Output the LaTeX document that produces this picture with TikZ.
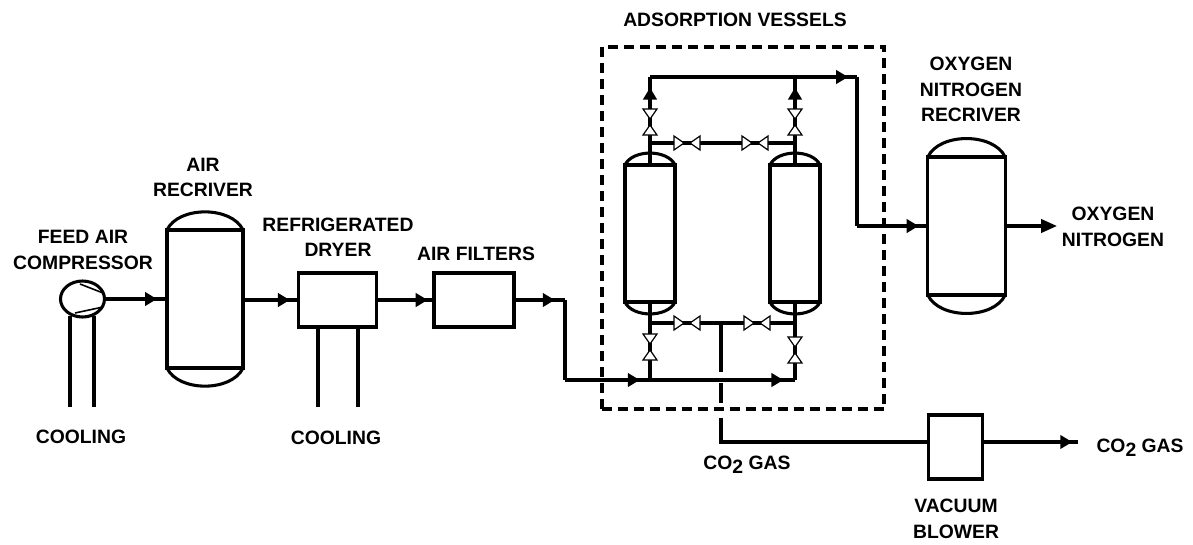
\documentclass[tikz,border=0pt]{standalone}
\usepackage{fontspec}
\setmainfont{Liberation Sans}
\usepackage{tikz}
\usetikzlibrary{arrows.meta,decorations.markings,shapes.geometric}

\tikzset{
    pipe/.style={line width=2.3pt},
    flow/.style={postaction={decorate},decoration={markings,
        mark=at position #1 with {\arrow{Triangle[length=9pt,width=10pt]}}}},
    unit/.style={draw,line width=2.3pt,rectangle,inner sep=0pt,outer sep=0pt},
    label/.style={font=\bfseries\fontsize{14.5}{19}\selectfont,align=center,inner sep=0pt},
    valve/.pic={
        \draw[line width=0.9pt,fill=white] (-13,-7) -- (-3,0) -- (-13,7) -- cycle;
        \draw[line width=0.9pt,fill=white] (13,-7) -- (3,0) -- (13,7) -- cycle;
    }
}

\begin{document}
\begin{tikzpicture}[x=0.75pt,y=-0.75pt]
\useasboundingbox (0,0) rectangle (1193,544);

% Adsorption boundary
\node[draw,line width=3pt,dash pattern=on 7.5pt off 4.5pt,rectangle,inner sep=0pt,
    minimum width=212pt,minimum height=272pt] (adsbox) at (743,228) {};

% Equipment
\node[draw,line width=2.3pt,ellipse,inner sep=0pt,outer sep=0pt,
    minimum width=33pt,minimum height=27pt] (compressor) at (82.5,299) {};
\node[unit,minimum width=57pt,minimum height=103.5pt] (airrec) at (205,299) {};
\node[unit,minimum width=59pt,minimum height=40.5pt] (dryer) at (337.5,300) {};
\node[unit,minimum width=60pt,minimum height=40.5pt] (filters) at (474,300) {};
\node[unit,minimum width=37.5pt,minimum height=102.75pt] (vesselA) at (650,233.5) {};
\node[unit,minimum width=37.5pt,minimum height=102.75pt] (vesselB) at (795,233.5) {};
\node[unit,minimum width=58pt,minimum height=103.5pt] (oxyrec) at (966.5,226) {};
\node[unit,minimum width=40pt,minimum height=48pt] (blower) at (955.5,447) {};

% Vessel heads
\foreach \v in {airrec,vesselA,vesselB,oxyrec} {
    \draw[pipe] (\v.north west) to[bend left=65,looseness=0.9] (\v.north east);
    \draw[pipe] (\v.south west) to[bend right=65,looseness=0.9] (\v.south east);
}
\draw[line width=1.2pt] (80,284) -- (103,293);
\draw[line width=1.2pt] (75,313) -- (103,307);

% Pipe junctions
\coordinate (topA) at (650,77);
\coordinate (topB) at (795,77);
\coordinate (topC) at (857,77);
\coordinate (dropC) at (857,226);
\coordinate (headA) at (650,143);
\coordinate (headB) at (795,143);
\coordinate (footA) at (650,323);
\coordinate (footB) at (795,323);
\coordinate (footM) at (721,323);
\coordinate (feedA) at (650,380);
\coordinate (feedB) at (795,380);
\coordinate (feedL) at (565,380);
\coordinate (feedT) at (565,300);
\coordinate (gasA) at (721,372);
\coordinate (gasB) at (721,383);
\coordinate (gasC) at (721,403);
\coordinate (gasD) at (721,418);
\coordinate (gasE) at (721,442);
\coordinate (gasF) at (930,442);
\coordinate (gasOut) at (1078,442);
\coordinate (oxyOut) at (1057,226);

% Cooling lines
\foreach \x/\y in {70/316,94/316,318/327,358/327}
    \draw[pipe] (\x,\y) -- (\x,407);

% Main line
\draw[pipe,flow=0.84] (compressor.east) -- (compressor.east -| airrec.west);
\draw[pipe,flow=0.85] (airrec.east |- dryer.west) -- (dryer.west);
\draw[pipe,flow=0.89] (dryer.east) -- (filters.west);
\draw[pipe,flow=0.8] (filters.east) -- (feedT);
\draw[pipe] (feedT) -- (feedL);
\draw[pipe,flow=0.88] (feedL) -- (feedA);
\draw[pipe,flow=0.92] (feedA) -- (feedB);
\draw[pipe] (feedB) -- (vesselB.south);
\draw[pipe] (feedA) -- (vesselA.south);

% Vessel outlets
\draw[pipe,flow=0.88] (vesselA.north) -- (topA);
\draw[pipe,flow=0.88] (vesselB.north) -- (topB);
\draw[pipe,flow=0.957] (topA) -- (topC);
\draw[pipe] (topC) -- (dropC);
\draw[pipe,flow=0.87] (dropC) -- (oxyrec.west |- dropC);
\draw[pipe,-{Triangle[length=12pt,width=10pt]}] (oxyrec.east |- dropC) -- (oxyOut);
\draw[pipe] (headA) -- (headB);
\draw[pipe] (footA) -- (footB);

% Gas line
\draw[pipe] (footM) -- (gasA);
\draw[pipe] (gasB) -- (gasC);
\draw[pipe] (gasD) -- (gasE) -- (gasF);
\draw[pipe,flow=0.94] (blower.east |- gasF) -- (gasOut);

% Valves
\foreach \x/\y in {687/143,755/143,687/323,757/323}
    \pic at (\x,\y) {valve};
\foreach \x/\y in {650/122,795/122,650/347,795/350}
    \pic[rotate=90] at (\x,\y) {valve};

% Labels
\node[label] (lblfeed) at (83,250) {FEED AIR\\COMPRESSOR};
\node[label] (lblcoolA) at (81,437) {COOLING};
\node[label] (lblair) at (203,177.5) {AIR\\RECRIVER};
\node[label] (lbldryer) at (338,237.5) {REFRIGERATED\\DRYER};
\node[label] (lblcoolB) at (336,438) {COOLING};
\node[label] (lblfilters) at (476,254) {AIR FILTERS};
\node[label] (lblads) at (735,20) {ADSORPTION VESSELS};
\node[label] (lbloxy) at (971,89.5) {OXYGEN\\NITROGEN\\RECRIVER};
\node[label] (lblout) at (1113,227) {OXYGEN\\NITROGEN};
\node[label] (lblgasA) at (747,465) {CO\lower3pt\hbox{2} GAS};
\node[label] (lblgasB) at (1140,448) {CO\lower3pt\hbox{2} GAS};
\node[label] (lblblower) at (956,519) {VACUUM\\BLOWER};
\end{tikzpicture}
\end{document}
